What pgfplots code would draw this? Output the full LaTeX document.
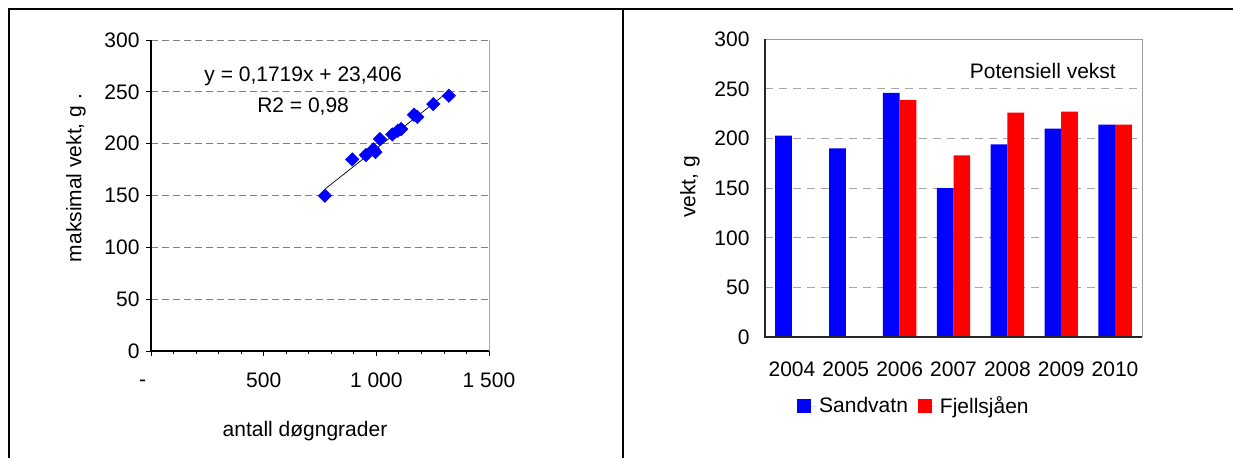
\documentclass[border=0pt]{standalone}
\usepackage{pgfplots}
\pgfplotsset{compat=1.18}
\usepackage{fontspec}
\setmainfont{Liberation Sans}
\definecolor{sblue}{RGB}{0,0,255}
\definecolor{fred}{RGB}{255,0,0}
\pgfplotsset{every axis/.append style={font=\fontsize{21}{25}\selectfont}}
\begin{document}
\begin{tikzpicture}[font=\fontsize{21}{25}\selectfont]
\useasboundingbox (0pt,0pt) rectangle (1233pt,-458pt);
% frame
\draw[line width=2pt] (9pt,-458pt) -- (9pt,-9pt) -- (1233pt,-9pt);
\draw[line width=2pt] (623pt,-9pt) -- (623pt,-458pt);

% ---------- left: scatter ----------
\begin{axis}[
  at={(151pt,-351pt)}, anchor=south west, scale only axis,
  width=338pt, height=311pt,
  xmin=0, xmax=1500, ymin=0, ymax=300,
  xtick={0,500,1000,1500}, xticklabels={\vphantom{1}\llap{-\hspace{5pt}},500,1 000,1 500},
  minor x tick num=4,
  ytick={0,50,100,150,200,250,300},
  xtick pos=bottom, ytick pos=left,
  tick align=outside, major tick length=5pt, minor tick length=3pt,
  tick style={black, line width=0.8pt},
  axis line style={draw=none},
  ymajorgrids, grid style={gray, dash pattern=on 7pt off 4pt, line width=0.8pt},
  /pgf/number format/assume math mode=true,
  xticklabel style={yshift=-13pt},
  yticklabel style={xshift=-3pt},
  clip=false,
]
\addplot[black, line width=0.7pt] coordinates {(774,156.5) (1323,250.8)};
\addplot[only marks, mark=square*, mark size=4.8pt, mark options={rotate=45, fill=sblue, draw=sblue}]
 coordinates {
 (772,149.8) (893,184.8) (954,189) (987,194.5) (996,191.9) (1016,204.4)
 (1071,208.9) (1095,212.4) (1110,214) (1167,227.9) (1182,225.7) (1253,238.2) (1322,246.2)
 };
\draw[gray!70, line width=0.9pt] (rel axis cs:1,0) -- (rel axis cs:1,1);
\draw[black, line width=1.3pt] (rel axis cs:0,1) -- (rel axis cs:0,0) -- (rel axis cs:1,0);
\node at (rel axis cs:0.45,0.882) {y = 0,1719x + 23,406};
\node at (rel axis cs:0.45,0.786) {R2 = 0,98};
\end{axis}
\node[rotate=90] at (76pt,-178pt) {maksimal vekt, g .};
\node at (305pt,-431pt) {antall døgngrader};

% ---------- right: bars ----------
\begin{axis}[
  at={(765pt,-337pt)}, anchor=south west, scale only axis,
  width=377pt, height=297.7pt,
  xmin=-0.5, xmax=6.5, ymin=0, ymax=300,
  ybar=0pt, bar width=16.7pt,
  xtick={0,1,2,3,4,5,6}, xticklabels={2004,2005,2006,2007,2008,2009,2010},
  ytick={0,50,100,150,200,250,300},
  xtick pos=bottom, ytick pos=left,
  major tick length=0pt,
  axis line style={draw=none},
  ymajorgrids, grid style={gray!70, dash pattern=on 8pt off 6pt, line width=0.9pt},
  /pgf/number format/assume math mode=true,
  xticklabel style={yshift=-21pt},
  yticklabel style={xshift=-12pt},
  clip=false,
  legend style={at={(0.395,-0.232)}, anchor=center, draw=none, fill=none,
    legend columns=2, inner sep=0pt,
    /tikz/every even column/.append style={column sep=8pt}},
  legend image code/.code={\fill[#1] (0pt,-7pt) rectangle (14pt,7pt); \path (0pt,0pt) -- (20pt,0pt);},
]
\addplot[fill=sblue, draw=none] coordinates {(0,203) (1,190) (2,246) (3,150) (4,194) (5,210) (6,214)};
\addplot[fill=fred, draw=none] coordinates {(2,239) (3,183) (4,226) (5,227) (6,214)};
\legend{Sandvatn, Fjellsjåen}
\draw[gray!80, line width=1pt] (rel axis cs:0,1) -- (rel axis cs:1,1) -- (rel axis cs:1,0);
\draw[black!85, line width=1.3pt] (rel axis cs:0,1) -- (rel axis cs:0,0) -- (rel axis cs:1,0);
\node at (rel axis cs:0.737,0.893) {Potensiell vekst};
\end{axis}
\node[rotate=90] at (690pt,-187pt) {vekt, g};
\end{tikzpicture}
\end{document}
